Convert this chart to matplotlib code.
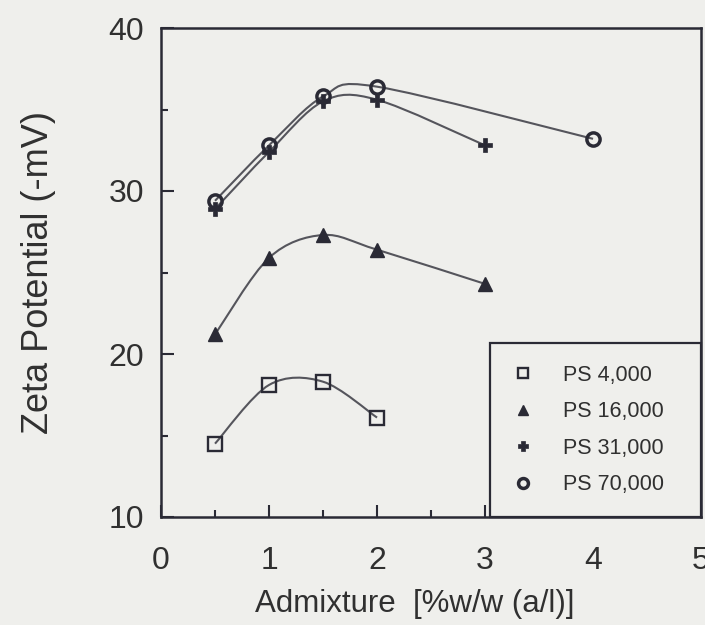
import numpy as np
import matplotlib.pyplot as plt
from matplotlib.path import Path
from matplotlib.patches import PathPatch
from matplotlib.lines import Line2D

plt.rcParams['font.family'] = ['Liberation Sans', 'DejaVu Sans']

# zeta potential vs admixture, four polystyrene grades
x_4k = [0.5, 1.0, 1.5, 2.0]
y_4k = [14.5, 18.1, 18.3, 16.1]
x_16k = [0.5, 1.0, 1.5, 2.0, 3.0]
y_16k = [21.2, 25.9, 27.3, 26.4, 24.3]
x_31k = [0.5, 1.0, 1.5, 2.0, 3.0]
y_31k = [28.9, 32.4, 35.5, 35.6, 32.8]
x_70k = [0.5, 1.0, 1.5, 2.0, 4.0]
y_70k = [29.4, 32.8, 35.8, 36.4, 33.2]
labels = ['PS 4,000', 'PS 16,000', 'PS 31,000', 'PS 70,000']

ink = '#2a2a35'
line_c = '#55555c'
txt = '#303030'
bg = '#efefec'


def smooth_path(xs, ys, t=0.16):
    # cardinal-spline style bezier through the measured points
    xs = np.asarray(xs, float)
    ys = np.asarray(ys, float)
    verts = [(xs[0], ys[0])]
    codes = [Path.MOVETO]
    n = len(xs)
    for i in range(n - 1):
        p0 = np.array([xs[max(i - 1, 0)], ys[max(i - 1, 0)]])
        p1 = np.array([xs[i], ys[i]])
        p2 = np.array([xs[i + 1], ys[i + 1]])
        p3 = np.array([xs[min(i + 2, n - 1)], ys[min(i + 2, n - 1)]])
        c1 = p1 + (p2 - p0) * t
        c2 = p2 - (p3 - p1) * t
        verts += [tuple(c1), tuple(c2), tuple(p2)]
        codes += [Path.CURVE4] * 3
    return Path(verts, codes)


fig = plt.figure(figsize=(7.05, 6.25), dpi=100)
fig.patch.set_facecolor(bg)
ax = fig.add_axes([0.2284, 0.1728, 0.766, 0.7824])
ax.set_facecolor(bg)

series = [
    (x_4k, y_4k, dict(marker='s', ms=9.5, mfc='none', mec=ink, mew=1.7)),
    (x_16k, y_16k, dict(marker='^', ms=9.5, mfc=ink, mec=ink, mew=1)),
    (x_31k, y_31k, dict(marker='P', ms=10.5, mfc=ink, mec=ink, mew=0.5)),
    (x_70k, y_70k, dict(marker='o', ms=9.5, mfc='none', mec=ink, mew=2.5)),
]

handles = []
for (xs, ys, mk), lab in zip(series, labels):
    ax.add_patch(PathPatch(smooth_path(xs, ys), fc='none', ec=line_c, lw=1.5, zorder=2))
    ax.plot(xs, ys, ls='none', zorder=3, **mk)
    small = dict(mk)
    small['ms'] = mk['ms'] * 0.75
    handles.append(Line2D([], [], ls='none', **small))

ax.set_xlim(0, 5)
ax.set_ylim(10, 40)
ax.set_xticks([0, 1, 2, 3, 4, 5])
ax.set_yticks([10, 20, 30, 40])
ax.set_xticks(np.arange(0.5, 5, 1), minor=True)
ax.set_yticks([15, 25, 35], minor=True)
ax.tick_params(which='both', direction='in', color=ink, width=1.5)
ax.tick_params(which='major', length=9, labelsize=23, labelcolor=txt)
ax.tick_params(which='minor', length=5)
ax.tick_params(axis='x', pad=21)
ax.tick_params(axis='y', pad=12)
for s in ax.spines.values():
    s.set_color(ink)
    s.set_linewidth(1.8)

ax.set_xlabel('Admixture  [%w/w (a/l)]', fontsize=22.5, color=txt)
ax.xaxis.set_label_coords(0.47, -0.147)
ax.set_ylabel('Zeta Potential (-mV)', fontsize=26, color=txt, labelpad=38)

leg = ax.legend(handles, labels, loc='lower left', bbox_to_anchor=(0.61, 0.0, 0.39, 0.3),
                mode='expand', prop={'size': 15.5}, frameon=True, fancybox=False,
                borderaxespad=0, borderpad=1.0, labelspacing=0.72,
                handletextpad=1.35, handlelength=1.0)
leg.get_frame().set_edgecolor(ink)
leg.get_frame().set_linewidth(1.6)
leg.get_frame().set_facecolor(bg)
leg.get_frame().set_alpha(1)
for t in leg.get_texts():
    t.set_color(txt)

fig.savefig('out.png', dpi=100, facecolor=bg)
